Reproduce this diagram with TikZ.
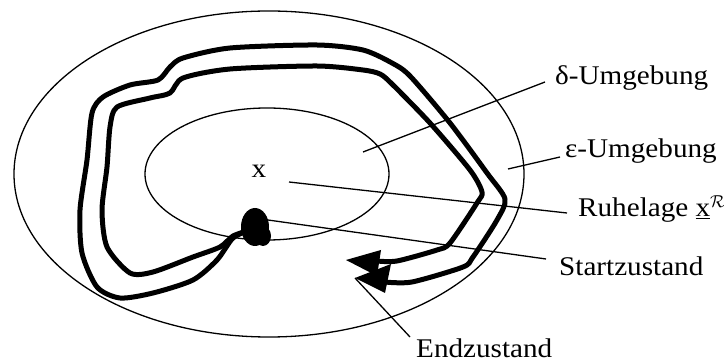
\documentclass[tikz,border=0pt]{standalone}
\usepackage{fontspec}
\setmainfont{Liberation Serif}[FakeStretch=1.08]
\begin{document}
\begin{tikzpicture}[x=1pt,y=-1pt,
  thinline/.style={line width=1.3pt},
  traj/.style={line width=5pt, line join=round, line cap=round},
  lbl/.style={anchor=base west, inner sep=0pt, font=\fontsize{27}{32}\selectfont},
  ]
\useasboundingbox (0,0) rectangle (724,363);
% neighbourhoods
\draw[thinline] (269,174) ellipse [x radius=255, y radius=163];
\draw[thinline] (267,174) ellipse [x radius=122, y radius=66];
% trajectories
\draw[traj] plot[smooth, tension=0.45] coordinates {(250,230) (233,238) (217,260) (193,280) (153,293) (120,298) (97,287) (82,253) (80,210) (87,160) (92,113) (103,97) (130,85) (158,80) (170,67) (183,58) (230,48) (317,45) (363,50) (392,63) (410,76) (450,123) (487,173) (505,199) (497,220) (473,257) (463,267) (412,282) (385,282)};
\draw[traj] plot[smooth, tension=0.45] coordinates {(250,230) (233,236) (220,247) (193,257) (153,272) (130,273) (107,247) (102,210) (107,167) (110,127) (117,107) (150,98) (170,93) (183,78) (230,69) (317,66) (363,70) (380,74) (392,84) (430,123) (470,170) (482,192) (477,203) (450,243) (437,250) (397,261) (377,261)};
% arrowheads
\fill (346,260) -- (381,250) -- (377,276) -- cycle;
\fill (355,278) -- (391,264) -- (385,293) -- cycle;
% start state
\fill (255,227) ellipse [x radius=14, y radius=19];
\fill (263,236) ellipse [x radius=8, y radius=10];
% labels
\node[anchor=base, inner sep=0pt, font=\fontsize{27}{32}\selectfont] (x) at (259,178) {x};
\node[lbl] (delta) at (555,85) {δ-Umgebung};
\node[lbl] (eps) at (565,158) {ε-Umgebung};
\node[lbl] (ruhe) at (578,217) {Ruhelage \underline{x}$^{\mathcal{R}}$};
\node[lbl] (start) at (559,276) {Startzustand};
\node[lbl, text depth=0pt] (end) at (416,358) {Endzustand};
% pointer lines
\coordinate (pd1) at (363,152); \coordinate (pd2) at (545,82);
\coordinate (pe1) at (508,169); \coordinate (pe2) at (560,157);
\coordinate (pr1) at (289,182); \coordinate (pr2) at (567,213);
\coordinate (ps1) at (268,220); \coordinate (ps2) at (546,259);
\coordinate (pz1) at (355,278); \coordinate (pz2) at (410,337);
\draw[thinline] (pd1) -- (pd2);
\draw[thinline] (pe1) -- (pe2);
\draw[thinline] (pr1) -- (pr2);
\draw[thinline] (ps1) -- (ps2);
\draw[thinline] (pz1) -- (pz2);
\end{tikzpicture}
\end{document}
